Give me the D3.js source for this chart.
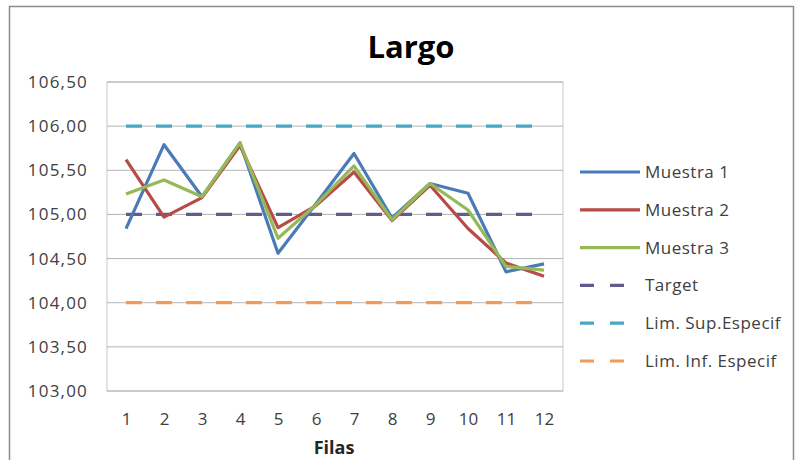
<!DOCTYPE html>
<html>
<head>
<meta charset="utf-8">
<script src="https://cdn.jsdelivr.net/npm/d3@7/dist/d3.min.js"></script>
<style>
  html, body { margin: 0; padding: 0; background: #ffffff; }
  svg { display: block; font-family: "Open Sans", "Liberation Sans", sans-serif; }
</style>
</head>
<body>
<svg id="chart" width="801" height="460"></svg>
<script>
// Row numbers along the x axis
const filas = [1, 2, 3, 4, 5, 6, 7, 8, 9, 10, 11, 12];

// Measured length of each sample, per row
const muestra1 = [104.84, 105.79, 105.20, 105.81, 104.56, 105.12, 105.69, 104.96, 105.35, 105.24, 104.35, 104.44];
const muestra2 = [105.62, 104.97, 105.19, 105.78, 104.85, 105.10, 105.48, 104.93, 105.33, 104.84, 104.45, 104.30];
const muestra3 = [105.23, 105.39, 105.20, 105.81, 104.73, 105.11, 105.55, 104.94, 105.35, 105.05, 104.41, 104.37];

// Reference levels
const target = 105.00;
const limSup = 106.00;
const limInf = 104.00;

// Y axis ticks
const yTicks = [103.0, 103.5, 104.0, 104.5, 105.0, 105.5, 106.0, 106.5];

const svg = d3.select("#chart");

// Plot area
const plot = { left: 107, right: 563, top: 82, bottom: 391 };

const x = d3.scalePoint()
  .domain(filas)
  .range([plot.left, plot.right])
  .padding(0.5);

const y = d3.scaleLinear()
  .domain([103, 106.5])
  .range([plot.bottom, plot.top]);

const locale = d3.formatLocale({ decimal: ",", thousands: ".", grouping: [3], currency: ["", "€"] });
const fmt = locale.format(".2f");

const textColor = "#404040";

// Outer chart frame
svg.append("rect")
  .attr("x", 9.5).attr("y", 6.5)
  .attr("width", 784).attr("height", 470)
  .attr("fill", "#ffffff")
  .attr("stroke", "#8c8c8c")
  .attr("stroke-width", 1.5);

// Title
svg.append("text")
  .attr("x", 411).attr("y", 58)
  .attr("text-anchor", "middle")
  .attr("font-size", 31)
  .attr("font-weight", "bold")
  .attr("fill", "#000000")
  .text("Largo");

// Plot border
svg.append("rect")
  .attr("x", plot.left).attr("y", plot.top)
  .attr("width", plot.right - plot.left)
  .attr("height", plot.bottom - plot.top)
  .attr("fill", "none")
  .attr("stroke", "#c8c8c8")
  .attr("stroke-width", 1);

// Horizontal gridlines
svg.append("g")
  .selectAll("line")
  .data(yTicks)
  .join("line")
  .attr("x1", plot.left).attr("x2", plot.right)
  .attr("y1", d => y(d)).attr("y2", d => y(d))
  .attr("stroke", "#b4b4b4")
  .attr("stroke-width", 1);

// Y axis labels
const yAxis = svg.append("g")
  .attr("transform", `translate(${plot.left},0)`)
  .call(d3.axisLeft(y).tickValues(yTicks).tickFormat(fmt).tickSize(0).tickPadding(19));
yAxis.select(".domain").remove();
yAxis.selectAll("text")
  .attr("font-size", 17)
  .attr("letter-spacing", 1.2)
  .attr("fill", textColor)
  .attr("font-family", "\"Open Sans\", sans-serif");

// X axis labels
const xAxis = svg.append("g")
  .attr("transform", `translate(0,${plot.bottom})`)
  .call(d3.axisBottom(x).tickSize(0).tickPadding(22));
xAxis.select(".domain").remove();
xAxis.selectAll("text")
  .attr("font-size", 17)
  .attr("fill", textColor)
  .attr("font-family", "\"Open Sans\", sans-serif");

// X axis title
svg.append("text")
  .attr("x", 334).attr("y", 454)
  .attr("text-anchor", "middle")
  .attr("font-size", 18)
  .attr("font-weight", "bold")
  .attr("fill", "#262626")
  .text("Filas");

// Series definitions
const series = [
  { name: "Muestra 1", values: muestra1, color: "#4a7ab8", dash: null },
  { name: "Muestra 2", values: muestra2, color: "#b84a47", dash: null },
  { name: "Muestra 3", values: muestra3, color: "#95b956", dash: null },
  { name: "Target", values: filas.map(() => target), color: "#625b90", dash: "16,14" },
  { name: "Lim. Sup.Especif", values: filas.map(() => limSup), color: "#48a8c4", dash: "16,14" },
  { name: "Lim. Inf. Especif", values: filas.map(() => limInf), color: "#f59a55", dash: "16,14" }
];

const line = d3.line()
  .x((d, i) => x(filas[i]))
  .y(d => y(d));

// Draw reference lines first, then sample lines on top
const drawOrder = [3, 4, 5, 0, 1, 2];
svg.append("g")
  .selectAll("path")
  .data(drawOrder.map(i => series[i]))
  .join("path")
  .attr("d", d => line(d.values))
  .attr("fill", "none")
  .attr("stroke", d => d.color)
  .attr("stroke-width", 3.2)
  .attr("stroke-linejoin", "round")
  .attr("stroke-dasharray", d => d.dash);

// Legend
const legend = svg.append("g")
  .selectAll("g")
  .data(series)
  .join("g")
  .attr("transform", (d, i) => `translate(580,${172 + i * 37.8})`);

legend.append("line")
  .attr("x1", 0).attr("x2", 60)
  .attr("y1", 0).attr("y2", 0)
  .attr("stroke", d => d.color)
  .attr("stroke-width", 3.2)
  .attr("stroke-dasharray", d => d.dash ? "14,16" : null);

legend.append("text")
  .attr("x", 65).attr("y", 0)
  .attr("dy", "0.35em")
  .attr("font-size", 17)
  .attr("letter-spacing", 0.5)
  .attr("fill", textColor)
  .text(d => d.name);
</script>
</body>
</html>
